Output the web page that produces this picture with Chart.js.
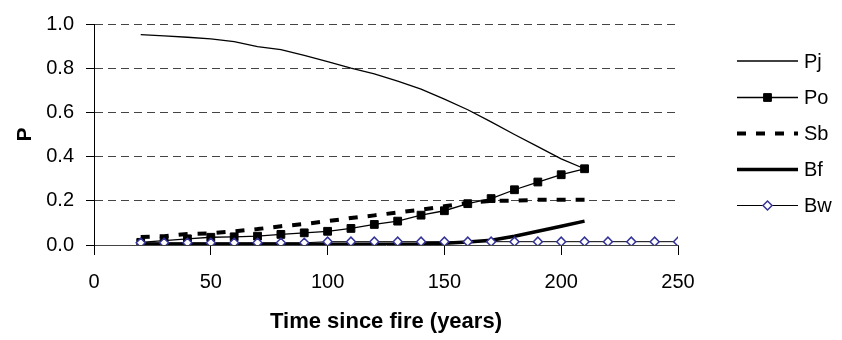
<!DOCTYPE html>
<html>
<head>
<meta charset="utf-8">
<script src="https://cdn.jsdelivr.net/npm/chart.js@4/dist/chart.umd.min.js"></script>
<style>
html,body{margin:0;padding:0;background:#fff;}
#wrap{width:842px;height:340px;position:relative;}
</style>
</head>
<body>
<div id="wrap"><canvas id="c" width="842" height="340"></canvas></div>
<script>
const years = [20,30,40,50,60,70,80,90,100,110,120,130,140,150,160,170,180,190,200,210];
const yearsBw = [20,30,40,50,60,70,80,90,100,110,120,130,140,150,160,170,180,190,200,210,220,230,240,250];
const Pj = [0.952,0.946,0.940,0.933,0.920,0.898,0.884,0.858,0.830,0.800,0.774,0.741,0.705,0.660,0.612,0.557,0.500,0.445,0.390,0.345];
const Po = [0.012,0.020,0.028,0.035,0.037,0.040,0.048,0.055,0.062,0.075,0.093,0.108,0.135,0.155,0.187,0.210,0.250,0.285,0.318,0.345];
const Sb = [0.036,0.040,0.050,0.053,0.062,0.072,0.085,0.095,0.108,0.122,0.134,0.147,0.160,0.175,0.190,0.200,0.200,0.205,0.205,0.205];
const Bf = [0.003,0.003,0.003,0.003,0.003,0.003,0.003,0.003,0.003,0.003,0.003,0.003,0.004,0.008,0.014,0.022,0.040,0.062,0.085,0.108];
const Bw = [0.010,0.010,0.010,0.010,0.010,0.010,0.010,0.010,0.015,0.015,0.015,0.015,0.015,0.015,0.015,0.015,0.015,0.015,0.015,0.015,0.015,0.015,0.015,0.015];
const seriesNames = ['Pj','Po','Sb','Bf','Bw'];
const xTicks = [0,50,100,150,200,250];
const yTicks = [0,0.2,0.4,0.6,0.8,1.0];

const FONT = "'Liberation Sans', Arial, sans-serif";
const pts = (xs, ys) => xs.map((x, i) => ({x: x, y: ys[i]}));

const styles = {
  Pj: {borderColor:'#000', borderWidth:1.3, pointRadius:0},
  Po: {borderColor:'#000', borderWidth:1.3, pointStyle:'rect', pointRadius:5.5, pointBackgroundColor:'#000', pointBorderColor:'#000', pointBorderWidth:1},
  Sb: {borderColor:'#000', borderWidth:4, borderDash:[9,10], pointRadius:0},
  Bf: {borderColor:'#000', borderWidth:3.5, pointRadius:0},
  Bw: {borderColor:'#000', borderWidth:1, pointStyle:'rectRot', pointRadius:4.5, pointBackgroundColor:'#fff', pointBorderColor:'#333399', pointBorderWidth:1.5}
};

const datasets = [
  Object.assign({label:'Pj', data: pts(years, Pj), order:2}, styles.Pj),
  Object.assign({label:'Po', data: pts(years, Po), order:1}, styles.Po),
  Object.assign({label:'Sb', data: pts(years, Sb), order:4}, styles.Sb),
  Object.assign({label:'Bf', data: pts(years, Bf), order:3}, styles.Bf),
  Object.assign({label:'Bw', data: pts(yearsBw, Bw), order:0}, styles.Bw)
];

const legendPlugin = {
  id: 'sideLegend',
  afterDraw(chart) {
    const ctx = chart.ctx;
    const x0 = 737, x1 = 798, tx = 804;
    const ys = [61, 97.5, 133.5, 169.5, 205.5];
    ctx.save();
    seriesNames.forEach((name, i) => {
      const s = styles[name];
      const y = ys[i];
      ctx.strokeStyle = s.borderColor;
      ctx.lineWidth = s.borderWidth;
      ctx.setLineDash(s.borderDash || []);
      ctx.beginPath(); ctx.moveTo(x0, y); ctx.lineTo(x1, y); ctx.stroke();
      ctx.setLineDash([]);
      if (s.pointRadius) {
        const cx = (x0 + x1) / 2;
        ctx.fillStyle = s.pointBackgroundColor;
        ctx.strokeStyle = s.pointBorderColor;
        ctx.lineWidth = s.pointBorderWidth;
        ctx.beginPath();
        if (s.pointStyle === 'rect') {
          const h = s.pointRadius * Math.SQRT1_2;
          ctx.rect(cx - h, y - h, 2*h, 2*h);
        } else {
          const r = s.pointRadius;
          ctx.moveTo(cx - r, y); ctx.lineTo(cx, y - r); ctx.lineTo(cx + r, y); ctx.lineTo(cx, y + r); ctx.closePath();
        }
        ctx.fill(); ctx.stroke();
      }
      ctx.fillStyle = '#000';
      ctx.font = '20px ' + FONT;
      ctx.textAlign = 'left';
      ctx.textBaseline = 'middle';
      ctx.fillText(name, tx, y + 1);
    });
    ctx.restore();
  }
};

new Chart(document.getElementById('c'), {
  type: 'line',
  data: { datasets: datasets },
  plugins: [legendPlugin],
  options: {
    responsive: false,
    animation: false,
    devicePixelRatio: 1,
    layout: { padding: { left: 0, right: 164, top: 14, bottom: 0 } },
    plugins: { legend: { display: false }, tooltip: { enabled: false } },
    elements: { line: { tension: 0, fill: false } },
    scales: {
      x: {
        type: 'linear', min: 0, max: 250,
        afterBuildTicks: (s) => { s.ticks = xTicks.map(v => ({value: v})); },
        afterFit: (s) => { s.height = 95; },
        ticks: { color: '#000', font: { family: FONT, size: 20 }, padding: 15, maxRotation: 0 },
        grid: { drawOnChartArea: false, drawTicks: true, tickLength: 10, tickColor: '#000', tickWidth: 1 },
        border: { display: true, color: '#444', width: 1 },
        title: { display: true, text: 'Time since fire (years)', color: '#000', font: { family: FONT, size: 22, weight: 'bold' }, padding: { top: 0, bottom: 5 } }
      },
      y: {
        type: 'linear', min: 0, max: 1,
        afterBuildTicks: (s) => { s.ticks = yTicks.map(v => ({value: v})); },
        afterFit: (s) => { s.width = 94; },
        ticks: { color: '#000', font: { family: FONT, size: 20 }, padding: 12, callback: (v) => Number(v).toFixed(1) },
        grid: {
          color: (c) => (c.tick && c.tick.value === 0) ? 'rgba(0,0,0,0)' : '#444',
          lineWidth: 1,
          drawTicks: true, tickLength: 8, tickColor: '#000', tickBorderDash: [], tickWidth: 1
        },
        border: { display: true, color: '#000', width: 1, dash: [8, 5] },
        title: { display: true, text: 'P', color: '#000', font: { family: FONT, size: 21, weight: 'bold' }, padding: { top: 13, bottom: 0 } }
      }
    }
  }
});
</script>
</body>
</html>
